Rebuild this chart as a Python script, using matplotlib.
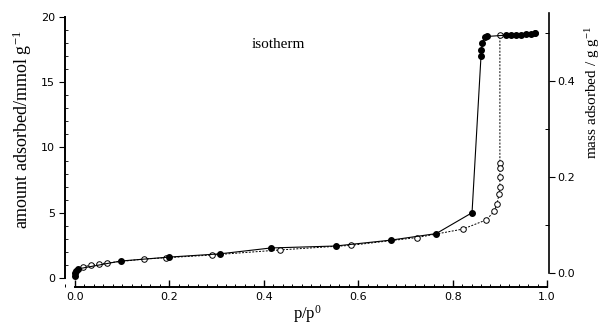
import matplotlib

matplotlib.use("Agg")
import matplotlib.pyplot as plt
from matplotlib.ticker import MultipleLocator

plt.rcParams["mathtext.fontset"] = "custom"
plt.rcParams["mathtext.rm"] = "Liberation Serif"
plt.rcParams["mathtext.it"] = "Liberation Serif:italic"

# adsorption branch (filled circles)
ads_p = [0.0, 0.0, 0.002, 0.007, 0.097, 0.199, 0.307, 0.415, 0.552, 0.669, 0.765,
         0.841, 0.860, 0.861, 0.863, 0.868, 0.872, 0.912, 0.924, 0.935, 0.945,
         0.955, 0.965, 0.975]
ads_n = [0.15, 0.35, 0.5, 0.7, 1.3, 1.6, 1.85, 2.3, 2.45, 2.9, 3.4,
         5.0, 17.0, 17.5, 18.0, 18.45, 18.5, 18.6, 18.65, 18.65, 18.65,
         18.7, 18.7, 18.8]

# desorption branch (open circles)
des_p = [0.975, 0.900, 0.900, 0.900, 0.900, 0.900, 0.898, 0.894, 0.888, 0.871,
         0.822, 0.725, 0.584, 0.434, 0.290, 0.192, 0.146, 0.067, 0.050, 0.035,
         0.018]
des_n = [18.8, 18.6, 8.8, 8.4, 7.7, 7.0, 6.4, 5.7, 5.1, 4.45,
         3.75, 3.1, 2.5, 2.15, 1.76, 1.55, 1.45, 1.15, 1.07, 1.0,
         0.85]

W, H = 606, 329
fig = plt.figure(figsize=(W / 100, H / 100), dpi=100)
# axes box in pixels: x 65..549, y 13..279
ax = fig.add_axes([65 / W, 1 - 279 / H, (549 - 65) / W, (279 - 13) / H])

ax.plot(ads_p, ads_n, "-", color="black", lw=0.8, marker="o", ms=4,
        mfc="black", mec="black", zorder=3)
ax.plot(des_p, des_n, color="black", lw=0.7, ls=(0, (2, 1.5)), marker="o", ms=4,
        mfc="white", mec="black", mew=0.7, zorder=2)

ax.set_xlim(-0.021, 1.004)
ax.set_ylim(-0.077, 20.3)

ax.spines["top"].set_visible(False)
ax.spines["right"].set_visible(False)
ax.spines["bottom"].set_position(("outward", 6))
ax.spines["bottom"].set_bounds(0, 1)
ax.spines["left"].set_bounds(0, 20)
ax.spines["left"].set_linewidth(1.4)
ax.spines["bottom"].set_linewidth(1.4)

ax.xaxis.set_major_locator(MultipleLocator(0.2))
ax.xaxis.set_minor_locator(MultipleLocator(0.02))
ax.yaxis.set_major_locator(MultipleLocator(5))
ax.yaxis.set_minor_locator(MultipleLocator(1))
ax.tick_params(axis="x", which="major", direction="in", length=5, width=1,
               labelsize=8, pad=3)
ax.tick_params(axis="x", which="minor", direction="in", length=2.5, width=0.7)
ax.tick_params(axis="y", which="major", direction="out", length=4, width=0.8,
               labelsize=8, pad=3)
ax.tick_params(axis="y", which="minor", direction="in", length=2, width=0.6)
ax.set_xticklabels([f"{v:.1f}" for v in ax.get_xticks()])
ax.set_yticklabels([f"{int(v)}" for v in ax.get_yticks()])

serif = "Liberation Serif"
ax.set_xlabel("p/p$^{0}$", family=serif, fontsize=12, labelpad=1)
fig.text(22 / W, 1 - 130 / H, "amount adsorbed/mmol g$^{-1}$", family=serif,
         fontsize=13, rotation=90, ha="center", va="center")
ax.text(0.43, 17.9, "isotherm", family=serif, fontsize=11, ha="center", va="center")

# right axis: mass adsorbed
ax2 = ax.twinx()
ax2.set_ylim(-0.0125, 0.5417)
for s in ("top", "left", "bottom"):
    ax2.spines[s].set_visible(False)
ax2.spines["right"].set_bounds(0, 0.5417)
ax2.spines["right"].set_linewidth(1.2)
ax2.yaxis.set_major_locator(MultipleLocator(0.2))
ax2.yaxis.set_minor_locator(MultipleLocator(0.1))
ax2.tick_params(axis="y", which="major", direction="out", length=4, width=0.8,
                labelsize=8, pad=2)
ax2.tick_params(axis="y", which="minor", direction="in", length=3, width=0.7)
ax2.set_yticklabels([f"{v:.1f}" for v in ax2.get_yticks()])
fig.text(593 / W, 1 - 92 / H, "mass adsorbed / g g$^{-1}$", family=serif,
         fontsize=11, rotation=90, ha="center", va="center")

fig.savefig("out.png", dpi=100)
